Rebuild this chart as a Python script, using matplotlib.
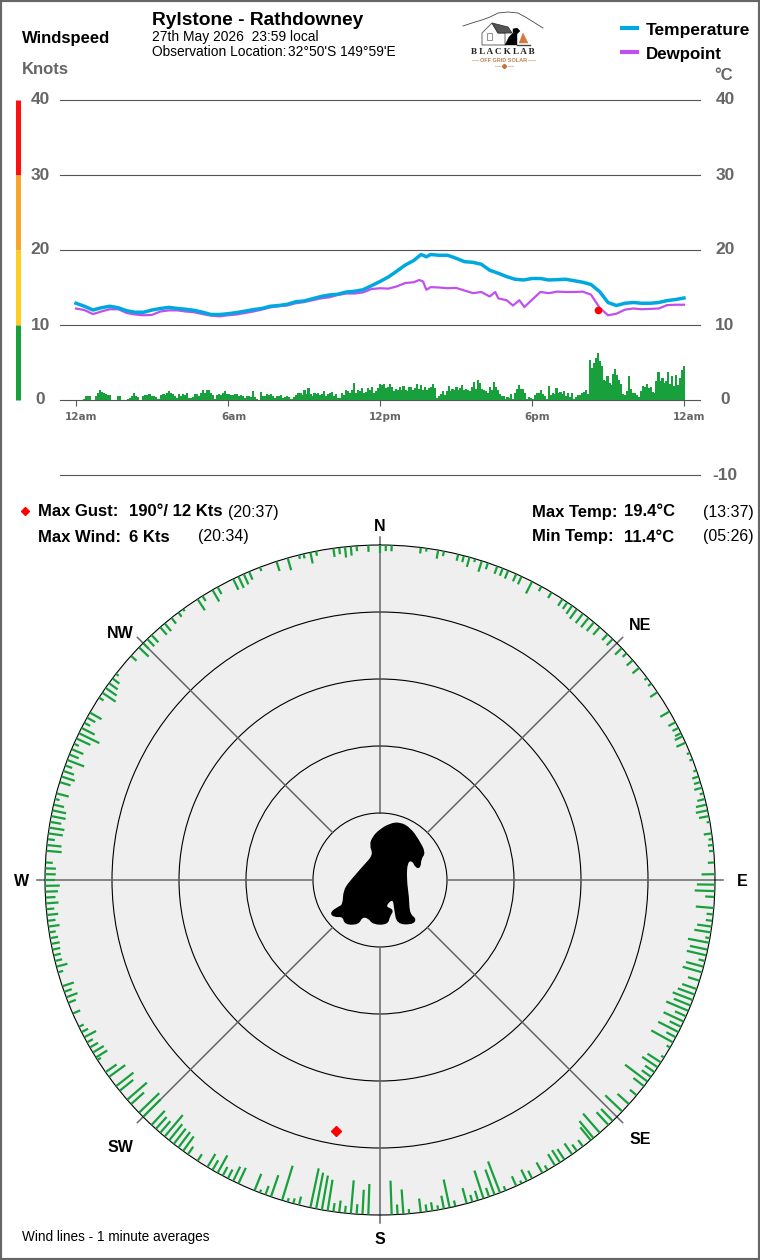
#-*- coding: utf-8 -*-
import numpy as np
import matplotlib
matplotlib.use("Agg")
import matplotlib.pyplot as plt
from matplotlib.lines import Line2D
from matplotlib.patches import PathPatch, Polygon, Rectangle
from matplotlib.path import Path

plt.rcParams['font.family'] = ['Liberation Sans', 'DejaVu Sans']

# temperature, every 20 minutes up to 1pm then read where it bends
temp_hours = [0, .33, .67, 1, 1.33, 1.67, 2, 2.33, 2.67, 3, 3.33, 3.67, 4, 4.33, 4.67, 5, 5.33, 5.67, 6, 6.33,
              6.67, 7, 7.33, 7.67, 8, 8.33, 8.67, 9, 9.33, 9.67, 10, 10.33, 10.67, 11, 11.33, 11.67, 12, 12.33,
              12.67, 13, 13.33, 13.62, 13.83, 14, 14.33, 14.67, 15, 15.33, 15.67, 16, 16.33, 16.67, 17, 17.33,
              17.67, 18, 18.33, 18.67, 19, 19.33, 19.67, 20, 20.33, 20.67, 21, 21.33, 21.67, 22, 22.33, 22.67,
              23, 23.33, 23.67, 24]
temp_vals = [12.9, 12.5, 12.0, 12.3, 12.5, 12.3, 11.9, 11.7, 11.7, 12.0, 12.2, 12.35, 12.2, 12.1, 11.95, 11.7,
             11.4, 11.4, 11.5, 11.65, 11.85, 12.05, 12.2, 12.5, 12.6, 12.75, 13.1, 13.2, 13.5, 13.8, 14.0, 14.1,
             14.4, 14.5, 14.7, 15.25, 15.8, 16.4, 17.2, 18.0, 18.6, 19.4, 19.1, 19.4, 19.3, 19.3, 18.9, 18.45,
             18.35, 18.1, 17.3, 16.9, 16.45, 16.1, 16.0, 16.2, 16.2, 16.0, 16.05, 16.1, 15.9, 15.7, 15.4, 14.45,
             13.0, 12.6, 12.9, 13.0, 12.9, 12.9, 13.0, 13.25, 13.4, 13.6]

dew_hours = [0, .33, .67, 1, 1.33, 1.67, 2, 2.33, 2.67, 3, 3.33, 3.67, 4, 4.33, 4.67, 5, 5.33, 5.67, 6, 6.33,
             6.67, 7, 7.33, 7.67, 8, 8.33, 8.67, 9, 9.33, 9.67, 10, 10.33, 10.67, 11, 11.33, 11.67, 12, 12.33,
             12.67, 13, 13.33, 13.55, 13.7, 13.83, 14, 14.33, 14.67, 15, 15.33, 15.67, 16, 16.33, 16.55, 16.67,
             17, 17.25, 17.5, 17.7, 17.95, 18.33, 18.67, 19, 19.33, 19.67, 20, 20.33, 20.67, 21, 21.33, 21.67,
             22, 22.33, 22.67, 23, 23.33, 23.67, 24]
dew_vals = [12.2, 12.0, 11.45, 11.8, 12.1, 12.1, 11.6, 11.4, 11.3, 11.35, 11.8, 11.95, 11.95, 11.8, 11.7, 11.45,
            11.25, 11.15, 11.3, 11.4, 11.6, 11.8, 12.05, 12.35, 12.5, 12.6, 12.9, 13.05, 13.3, 13.55, 13.7, 14.0,
            14.2, 14.2, 14.35, 14.8, 14.9, 14.85, 15.15, 15.6, 15.7, 16.0, 15.8, 14.7, 15.05, 15.0, 14.9, 14.95,
            14.6, 14.25, 14.4, 13.8, 14.4, 13.55, 13.3, 12.6, 13.3, 12.4, 13.2, 14.4, 14.25, 14.45, 14.4, 14.4,
            14.45, 14.05, 12.3, 11.3, 11.5, 12.05, 12.2, 12.1, 12.15, 12.2, 12.65, 12.7, 12.7]

# wind bars for each half of the day
wind_am = [0, 0, 0, 0, .2, .5, .6, .5, 0, 0, .5, .9, 1.3, 1.1, .9, .8, .7, .7, 0, 0, 0, .6, .6, 0, 0, 0, .2, .3,
           .5, 1.0, .5, .4, 0, 0, .5, .7, .7, .8, .6, .5, .4, .2, .1, .7, .8, .7, 1.0, 1.2, .9, .8, .6, .3, .8,
           .6, .8, .7, .9, .3, .3, .4, .8, .8, .6, .9, 1.4, 1.0, 1.4, 1.4, 1.0, .7, .1, .7, .8, .7, .9, 1.2, .8,
           .8, .7, .7, .8, .8, .6, .7, .5, .3, .5, .5, .4, 1.2, .4, .1, 0, 1.1, .6, .5, .8, .7, .8, .5, .3, .6,
           .5, .7, .3, .4, .5, .4, .1, .2, .4, .7, 1.0, .9, .7, 1.3, .8, 1.6, .8, .6, .9, .8, .9, .7, .8, 1.2,
           .5, .8, .9, 1.1, .6, .8, .3, .3, .9, .7, 1.3, 1.2, 1.0, 1.4, 2.3, 1.0, 1.3, 1.2, 1.6, .9, 1.1, 1.6,
           1.3, 1.7, 1.0, 1.2, 1.6, 1.3]
wind_pm = [2.2, 2.0, 2.2, 1.6, 1.8, 2.2, 1.8, 1.2, 1.5, 1.4, 1.8, 1.3, 1.9, 1.4, 1.2, 1.7, 1.7, 1.4, 1.6, 2.2,
           1.5, 2.0, 1.4, 1.7, 1.4, 1.6, 1.7, 2.2, 1.6, .3, .6, .8, 1.2, .7, 1.2, 1.9, 1.2, 1.5, 1.3, 1.7, 1.4,
           1.6, 2.0, 1.3, 1.5, 1.3, 1.2, 1.8, 2.4, 1.5, 2.7, 2.3, 1.5, 1.3, 1.2, 1.0, 1.7, 1.4, 2.4, 1.7, 1.3,
           .8, .6, .5, .2, .4, .3, .8, .2, .9, 1.5, 2.0, 1.5, 1.5, .9, .1, .4, .3, .2, .7, 1.0, .9, 1.3, .8, .5,
           .2, 1.9, .7, 1.0, .8, 1.6, 1.0, 1.1, .8, 1.2, .6, .9, .4, .9, .1, .4, .7, .7, 1.0, 1.1, 1.3, .8, 5.3,
           4.3, 5.0, 5.6, 6.3, 5.2, 4.5, 2.7, 2.5, 3.2, 2.3, 2.0, 3.5, 4.1, 3.3, 2.7, 2.2, .8, .7, 1.2, 3.2, 1.5,
           .9, 1.0, .7, .4, 1.2, 1.9, 1.7, 2.2, 1.6, 1.8, 1.1, 1.0, 2.6, 3.7, 2.5, 3.0, 2.3, 2.6, 3.8, 2.2, 3.2,
           1.9, 3.4, 2.0, 3.0, 4.0, 4.6]

hour_ticks = [0, 6, 12, 18, 24]
hour_labels = ['12am', '6am', '12pm', '6pm', '12am']
left_ticks = [40, 30, 20, 10, 0]
right_ticks = [40, 30, 20, 10, 0, -10]

gust_hour = 20.62
gust_dir = 190
gust_speed = 12

# 1 minute wind lines, direction and speed
wind_dir = [1, 2, 7, 8, 10, 11, 13.5, 14.5, 15.5, 16.5, 17.7, 18.8, 20.5, 21.5, 22.5, 24, 25, 27, 28.8, 30.8, 33,
            34, 35, 36, 37.3, 38.5, 39.7, 41, 42.8, 44, 46.2, 47.4, 49, 50.7, 52.9, 54.1, 55.9, 59.8, 61.9, 63, 64,
            64.6, 65.8, 67.7, 68.9, 70.9, 72, 73, 74, 75, 76, 77, 78, 79, 80, 82, 83, 84, 85, 87, 89,
            90.8, 91.9, 92.9, 94.8, 95.9, 97, 98, 99, 100, 100.8, 102, 103, 104, 105, 106, 107.5, 109, 110, 111,
            112, 113, 114, 115, 116, 117, 118, 119, 120, 122, 123, 124, 125, 126, 127, 128, 130, 132, 133.7, 136,
            137, 139, 140.4, 141, 142.7, 144, 145, 146.6, 147.5, 148.5, 150, 151, 153, 154, 155, 156, 158, 159, 160,
            161, 162, 163, 164, 165, 167, 168, 169, 170, 171, 172, 173, 175, 176, 177, 178,
            182, 183, 184, 185, 186, 187, 188, 189, 190, 191, 192, 194, 195, 196, 197, 199, 200, 201, 202, 205,
            206, 207, 208, 209, 210, 211, 213, 215, 216, 217, 218, 219, 220, 221, 222, 223, 225, 226, 228, 229,
            231, 232, 234, 235, 237.5, 238, 239, 240, 241, 242, 243, 244, 246.5, 248.5, 249.5, 250.5, 251.5, 254,
            255, 256, 257, 258, 259, 260, 261, 262, 263, 264, 265, 266, 267, 268, 269, 270,
            271, 272, 273, 275, 276, 277, 278, 279, 280, 281, 282, 283, 284, 285, 287, 288, 289, 290, 291, 292,
            293, 294, 295, 296, 297, 298, 299, 300, 303, 304, 305, 306, 307, 308, 312, 314, 315, 316, 317, 319,
            320, 321.5, 323, 324, 327, 328, 330, 331, 334, 335, 336, 337, 339, 342, 344, 346, 346.8, 348, 349,
            352, 353, 354, 355, 356, 358, 360]
wind_kts = [.9, .9, .9, .5, 1.3, .75, 1.0, 1.0, 1.5, .5, 1.7, 1.0, 1.2, 1.2, 1.3, 1.2, 1.3, 2.0, .8, 1.0, 1.2,
            1.2, 1.5, 1.8, 1.8, 1.8, 1.7, 1.5, 1.2, 1.3, 1.4, .8, 1.2, 1.3, .5, .6, 1.3, 1.6, 1.2, 1.0, 1.0,
            1.3, 1.5, .5, .5, .5, 1.0, 1.0, 1.2, .6, 1.2, 1.6, 1.8, 1.5, .5, 1.2, .6, .8, .7, 1.0, 2.0,
            2.7, 3.0, 1.4, 2.7, 1.0, 1.0, 2.2, 2.5, .7, 3.2, 2.7, 3.0, 1.0, 2.7, 3.0, 1.8, 2.3, 2.7, 3.2,
            2.7, 3.6, 1.8, 3.3, 1.9, 3.4, 1.6, 3.7, .6, .5, 2.4, 2.8, 1.7, 1.7, 4.2, 2.0, 1.3, 2.3, 3.5, 2.5,
            2.6, 3.8, 3.3, 2.5, 1.2, 1.2, 2.0, 1.9, 2.2, 2.0, .8, 1.8, 1.3, 1.9, .5, 1.6, .7, 5.0, 4.0,
            1.4, 4.4, 1.5, 1.1, 2.4, .9, 4.3, 2.0, .7, 1.3, 1.1, 2.1, .7, 3.7, 1.5, 5.1,
            4.6, 3.7, 1.5, 5.0, 1.1, 1.8, 1.3, 4.7, 5.2, 5.5, 6.0, 1.3, .8, .6, 5.4, 3.4, 1.4, .5, 2.7, 2.6,
            2.4, 1.5, 1.5, 3.0, 1.7, 2.3, 1.2, 1.4, 2.7, 2.9, 2.9, 3.1, 4.2, 2.3, 2.4, 2.9, 3.7, 4.2, 2.6, 3.9,
            2.6, 3.3, 3.0, 2.0, .6, 2.0, 1.9, 1.4, 1.0, 2.0, 1.1, .8, 1.2, 1.2, 1.8, 1.2, 1.8, .8,
            1.7, 1.1, 1.1, 1.2, 1.3, 1.2, 1.0, 1.7, 1.2, 1.7, 1.2, 1.9, 1.5, 1.9, 2.2, 1.5,
            1.6, 1.6, 1.1, 2.3, 2.2, 1.1, 2.2, 2.3, 1.7, 2.2, 2.1, 1.6, .7, 1.9, 1.7, 2.1, 1.7, 1.1, 2.7, 1.5,
            1.9, .8, 2.3, 3.4, 2.2, 1.0, 1.4, 2.0, .8, 2.4, 2.0, 1.6, 1.3, .5, 1.1, 2.0, 1.2, 1.5, 1.5, 1.5,
            1.5, 1.1, .8, .4, 2.0, .9, 2.0, 1.2, 1.8, 1.9, 1.7, 1.3, .6, 1.5, 1.9, .6, .7, 1.7, .7,
            1.3, 1.0, 1.6, 1.4, .8, 1.0, 1.2]

compass_dirs = [0, 45, 90, 135, 180, 225, 270, 315]

GREY = '#666666'
GREEN = '#18a03c'
W, H = 760, 1260


def px_axes(fig, x0, y0, x1, y1, **kw):
    # axes placed with picture pixels, y counted from the top
    return fig.add_axes([x0 / W, 1 - y1 / H, (x1 - x0) / W, (y1 - y0) / H], **kw)


def label(x, y, s, **kw):
    kw.setdefault('va', 'center')
    kw.setdefault('color', 'black')
    fig.text(x / W, 1 - (y + 1) / H, s, **kw)


def smooth_outline(xs, ys):
    # closed outline, quadratic curves through the midpoints
    pts = np.column_stack([xs, ys])
    mids = (pts + np.roll(pts, -1, axis=0)) / 2
    verts = [mids[-1]]
    codes = [Path.MOVETO]
    for p, m in zip(pts, mids):
        verts += [p, m]
        codes += [Path.CURVE3, Path.CURVE3]
    return Path(verts, codes)


fig = plt.figure(figsize=(7.6, 12.6), dpi=100)
fig.patches.append(Rectangle((0, 0), 1, 1, transform=fig.transFigure, fill=False, ec=GREY, lw=3))

# top chart
ax = px_axes(fig, 60, 100, 700, 475)
ax.patch.set_alpha(0)
ax.set_xlim(-16 / 25.33, 24 + 16 / 25.33)
ax.set_ylim(-10, 40)
for s in ax.spines.values():
    s.set_visible(False)
ax.set_yticks(right_ticks)
ax.set_yticklabels([])
ax.tick_params(axis='y', length=0)
ax.grid(axis='y', color='#555555', lw=.8)
for gl in ax.get_ygridlines():
    gl.set_clip_on(False)
ax.set_axisbelow(True)
ax.set_xticks([])
ax.vlines(hour_ticks, -0.75, 0, color='#555555', lw=.8, clip_on=False)
for h, s in zip(hour_ticks, hour_labels):
    ax.annotate(s, xy=(h, 0), xytext=(4, -12), textcoords='offset points', ha='center', va='center',
                fontsize=7.5, fontweight='bold', color=GREY, family='DejaVu Sans')

am_hours = np.linspace(0, 12, len(wind_am))
pm_hours = np.linspace(12, 24, len(wind_pm))
ax.bar(am_hours, wind_am, width=0.085, color=GREEN, lw=0)
ax.bar(pm_hours, wind_pm, width=0.085, color=GREEN, lw=0)
ax.plot(dew_hours, dew_vals, color='#c050ee', lw=1.6, solid_joinstyle='round')
ax.plot(temp_hours, temp_vals, color='#00a8e0', lw=2.5, solid_joinstyle='round')
ax.plot([gust_hour], [gust_speed], 'o', color='#ff0000', ms=4.5, zorder=5)

# speed colour band on the left
band_tr = ax.get_yaxis_transform()
for y0, y1, c in [(30, 40, '#ff1010'), (20, 30, '#f5a52a'), (10, 20, '#ffcc22'), (0, 10, '#18a03c')]:
    ax.vlines(-42.5 / 640, y0, y1, color=c, lw=3.6, transform=band_tr, clip_on=False)

for v in left_ticks:
    label(40.5, 400 - v * 7.5 - 1, str(v), ha='center', fontsize=12.5, fontweight='bold', color=GREY)
for v in right_ticks:
    label(725, 400 - v * 7.5 - 1, str(v), ha='center', fontsize=12.5, fontweight='bold', color=GREY)

# header
label(22, 38, 'Windspeed', fontsize=12, fontweight='bold')
label(22, 69, 'Knots', fontsize=12, fontweight='bold', color=GREY)
label(714, 74, '°C', fontsize=12, fontweight='bold', color=GREY)
label(152, 19.5, 'Rylstone - Rathdowney', fontsize=13.8, fontweight='bold')
label(152, 36, '27th May 2026  23:59 local', fontsize=9.9)
label(152, 51, 'Observation Location:', fontsize=9.9)
label(288, 51, "32°50'S 149°59'E", fontsize=9.9)
fig.add_artist(Line2D([620 / W, 639 / W], [1 - 28 / H] * 2, color='#00a8e0', lw=3, solid_capstyle='butt'))
fig.add_artist(Line2D([620 / W, 639 / W], [1 - 52 / H] * 2, color='#c050ee', lw=3, solid_capstyle='butt'))
label(646, 29, 'Temperature', fontsize=12.5, fontweight='bold')
label(646, 54, 'Dewpoint', fontsize=12.2, fontweight='bold')

# logo
logo = px_axes(fig, 455, 5, 550, 75)
logo.set_xlim(455, 550)
logo.set_ylim(75, 5)
logo.axis('off')
logo.plot([463, 475, 482, 490, 498, 508, 518, 527, 535, 543], [26, 22, 20, 17, 13, 12, 13, 18, 23, 28],
          color='#444444', lw=.6)
logo.add_patch(Polygon([[482, 33], [492, 23], [498, 33], [505, 33], [505, 45], [482, 45]], fc='white', ec='#666666', lw=.7))
logo.add_patch(Polygon([[492, 23], [508, 27], [512, 33], [498, 33]], fc='#555555', ec='#333333', lw=.6))
logo.add_patch(Rectangle((487, 33), 5, 7, fill=False, ec='#666666', lw=.5))
logo.add_patch(Polygon([[505, 45], [509, 37], [513, 33], [513, 29], [517, 28], [520, 31], [517, 34], [517, 45]], fc='black', ec='black', lw=.3))
logo.add_patch(Polygon([[523, 33], [519, 43], [528, 43]], fc='#d07a40', ec='#d07a40', lw=.3))
logo.plot([517, 530], [44.5, 44.5], color='#444444', lw=1)
logo.text(503, 52, 'B L A C K L A B', fontsize=6.6, fontweight='bold', ha='center', va='center', color='#222222',
          family='Liberation Serif')
logo.text(504, 60, 'OFF GRID SOLAR', fontsize=4, fontweight='bold', ha='center', va='center', color='#c08050')
logo.plot([472, 478], [60, 60], color='#e0c8b0', lw=.8)
logo.plot([528, 535], [60, 60], color='#e0c8b0', lw=.8)
logo.plot([495, 500], [66, 66], color='#e0c8b0', lw=.8)
logo.plot([508, 513], [66, 66], color='#e0c8b0', lw=.8)
logo.plot([503.5], [66], 'D', color='#c8703a', ms=2.2)

# stats
fig.add_artist(Line2D([25 / W], [1 - 511 / H], marker='D', color='#ff0000', ms=4.5))
label(38, 511, 'Max Gust:', fontsize=12, fontweight='bold')
label(129, 511, '190°/ 12 Kts', fontsize=12, fontweight='bold')
label(228, 511, '(20:37)', fontsize=11.5)
label(38, 536, 'Max Wind:', fontsize=12, fontweight='bold')
label(129, 536, '6 Kts', fontsize=12, fontweight='bold')
label(198, 536, '(20:34)', fontsize=11.5)
label(532, 511, 'Max Temp:', fontsize=12, fontweight='bold')
label(624, 511, '19.4°C', fontsize=12, fontweight='bold')
label(703, 511, '(13:37)', fontsize=11.5)
label(532, 536, 'Min Temp:', fontsize=12, fontweight='bold')
label(624, 536, '11.4°C', fontsize=12, fontweight='bold')
label(703, 536, '(05:26)', fontsize=11.5)

# compass
pol = px_axes(fig, 45, 545, 715, 1215, projection='polar')
pol.set_facecolor('#efefef')
pol.set_theta_zero_location('N')
pol.set_theta_direction(-1)
pol.set_rlim(0, 50)
pol.set_yticks([10, 20, 30, 40])
pol.set_yticklabels([])
pol.set_xticks([])
pol.grid(True, color='black', lw=.8)
pol.spines['polar'].set_color('black')
pol.spines['polar'].set_linewidth(.8)
for d in compass_dirs:
    pol.plot([np.radians(d)] * 2, [10, 51.2], color=GREY, lw=1.1, clip_on=False, zorder=2)
pol.vlines(np.radians(wind_dir), 50 - np.array(wind_kts), 50, color=GREEN, lw=1.6, zorder=3)
pol.plot([np.radians(gust_dir)], [50 - gust_speed], 'D', color='#ff0000', ms=5, zorder=4)

for x, y, s in [(380, 525, 'N'), (742, 881, 'E'), (380, 1238, 'S'), (22, 881, 'W'),
                (640, 624, 'NE'), (120, 632, 'NW'), (640, 1138, 'SE'), (120, 1146, 'SW')]:
    label(x, y, s, ha='center', fontsize=11.5, fontweight='bold')
label(22, 1236, 'Wind lines - 1 minute averages', fontsize=9.8)

# dog in the middle of the compass, outline in pixels of the 3x crop
dog_x = [62, 85, 100, 102, 125, 160, 192, 180, 190, 210, 240, 270, 300, 325, 345, 332, 330, 318, 308, 290, 288, 295, 297, 318, 305, 262, 255, 250, 222, 250, 238, 232, 190, 175, 155, 145, 105, 100, 72]
dog_y = [308, 292, 285, 240, 210, 170, 135, 105, 80, 60, 42, 38, 55, 90, 128, 145, 172, 172, 150, 155, 210, 260, 312, 328, 342, 340, 300, 262, 290, 300, 318, 342, 342, 322, 320, 342, 342, 318, 320]
dog = px_axes(fig, 310, 810, 450, 940)
dog.patch.set_alpha(0)
dog.set_xlim(0, 420)
dog.set_ylim(390, 0)
dog.axis('off')
dog.add_patch(PathPatch(smooth_outline(dog_x, dog_y), fc='black', ec='black', lw=1))

fig.savefig('out.png', dpi=100)
